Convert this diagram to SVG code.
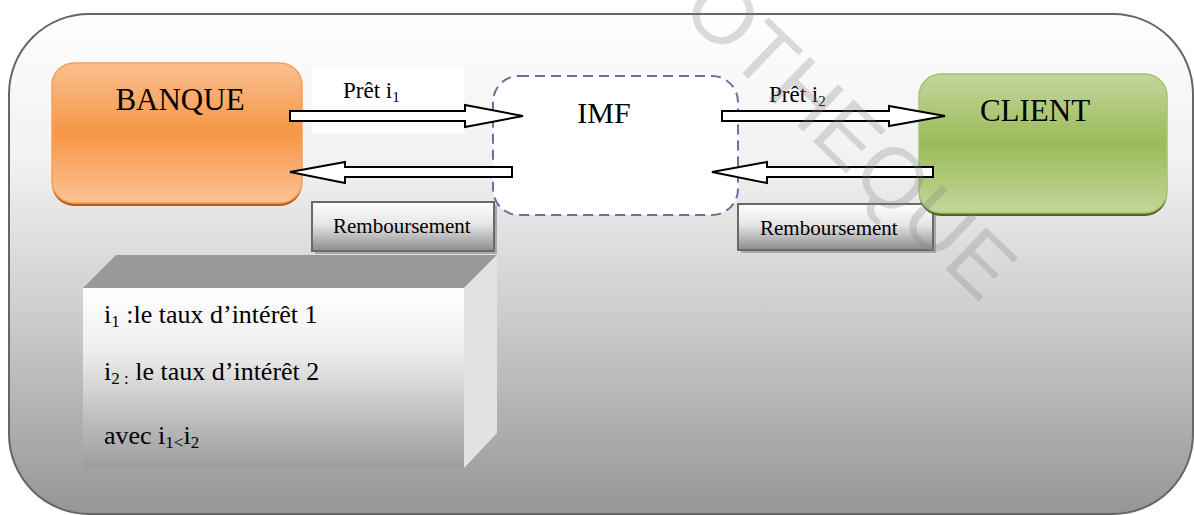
<svg xmlns="http://www.w3.org/2000/svg" width="1194" height="515" viewBox="0 0 1194 515">
  <defs>
    <linearGradient id="bgGrad" x1="0" y1="0" x2="0" y2="1">
      <stop offset="0" stop-color="#fefefe"/>
      <stop offset="0.3" stop-color="#f1f1f1"/>
      <stop offset="0.6" stop-color="#cdcdcd"/>
      <stop offset="1" stop-color="#969696"/>
    </linearGradient>
    <linearGradient id="orangeGrad" x1="0" y1="0" x2="0" y2="1">
      <stop offset="0" stop-color="#fac08f"/>
      <stop offset="0.5" stop-color="#f79646"/>
      <stop offset="1" stop-color="#fbc394"/>
    </linearGradient>
    <linearGradient id="greenGrad" x1="0" y1="0" x2="0" y2="1">
      <stop offset="0" stop-color="#c3d69b"/>
      <stop offset="0.5" stop-color="#9bbb59"/>
      <stop offset="1" stop-color="#c3d69b"/>
    </linearGradient>
    <linearGradient id="btnGrad" x1="0" y1="0" x2="0" y2="1">
      <stop offset="0" stop-color="#ffffff"/>
      <stop offset="0.45" stop-color="#e6e6e6"/>
      <stop offset="1" stop-color="#8c8c8c"/>
    </linearGradient>
    <linearGradient id="frontGrad" x1="0" y1="0" x2="0" y2="1">
      <stop offset="0" stop-color="#ffffff"/>
      <stop offset="0.35" stop-color="#eeeeee"/>
      <stop offset="1" stop-color="#9c9c9c"/>
    </linearGradient>
    <style>
      .title { font-size: 31px; }
      .small { font-size: 21px; }
      .note { font-size: 26px; }
      .arrow { fill: #fff; stroke: #000; stroke-width: 2; stroke-linejoin: miter; }
      .btn { fill: url(#btnGrad); stroke: #6a6a6a; stroke-width: 2; }
      .btnShadow { fill: #a8a8a8; }
    </style>
  </defs>

  <!-- outer rounded panel -->
  <rect id="panel" x="9" y="14" width="1184" height="500" rx="80" ry="80" fill="url(#bgGrad)" stroke="#666" stroke-width="2"/>

  <g font-family="'Liberation Serif', 'Times New Roman', serif" fill="#000">
    <!-- repayment labels -->
    <g id="remb1">
      <rect class="btnShadow" x="315" y="205" width="182" height="49"/>
      <rect class="btn" x="312" y="202" width="182" height="49"/>
      <text class="small" x="333" y="233">Remboursement</text>
    </g>
    <g id="remb2">
      <rect class="btnShadow" x="741" y="207" width="195" height="46"/>
      <rect class="btn" x="738" y="204" width="195" height="46"/>
      <text class="small" x="760" y="235">Remboursement</text>
    </g>

    <!-- BANQUE -->
    <g id="banque">
      <rect x="52" y="66" width="250" height="140" rx="22" fill="#b35e1c"/>
      <rect x="52" y="63" width="250" height="140" rx="22" fill="url(#orangeGrad)" stroke="#f6a059" stroke-width="1.5"/>
      <text class="title" x="180" y="110" text-anchor="middle">BANQUE</text>
    </g>

    <!-- IMF -->
    <g id="imf">
      <rect x="493" y="76" width="245" height="139" rx="26" fill="#fff" stroke="#8064a2" stroke-width="2" stroke-dasharray="10 6"/>
      <text x="604" y="123" text-anchor="middle" font-size="30">IMF</text>
    </g>

    <!-- CLIENT -->
    <g id="client">
      <rect x="919" y="77" width="248" height="139" rx="22" fill="#4f6228"/>
      <rect x="919" y="74" width="248" height="139" rx="22" fill="url(#greenGrad)" stroke="#a6c26a" stroke-width="1.5"/>
      <text class="title" x="1035" y="121" text-anchor="middle">CLIENT</text>
    </g>

    <!-- loan label (i1) -->
    <g id="pret1">
      <rect x="312" y="66" width="152" height="67" fill="#fff"/>
      <text x="343" y="98" font-size="23">Prêt i<tspan font-size="15" dy="4">1</tspan></text>
    </g>
    <!-- loan label (i2) -->
    <g id="pret2">
      <text x="769" y="102" font-size="23">Prêt i<tspan font-size="15" dy="4">2</tspan></text>
    </g>

    <!-- legend block -->
    <g id="legend">
      <polygon points="83,288 116,255 497,255 464,288" fill="#999999"/>
      <polygon points="464,288 497,255 497,433 464,468" fill="#e2e2e2"/>
      <rect x="83" y="288" width="381" height="180" fill="url(#frontGrad)"/>
      <text class="note" x="104" y="323">i<tspan font-size="17" dy="4">1</tspan><tspan dy="-4"> :le taux d’intérêt 1</tspan></text>
      <text class="note" x="104" y="380">i<tspan font-size="17" dy="4">2 :</tspan><tspan dy="-4"> le taux d’intérêt 2</tspan></text>
      <text class="note" x="104" y="444">avec i<tspan font-size="17" dy="4">1&lt;</tspan><tspan dy="-4">i</tspan><tspan font-size="17" dy="4">2</tspan></text>
    </g>
  </g>

  <!-- flows -->
  <g id="connectors">
    <polygon class="arrow" points="290,111 465,111 465,105 523,116 465,127 465,121 290,121"/>
    <polygon class="arrow" points="512,167 345,167 345,162 290,172 345,183 345,177 512,177"/>
    <polygon class="arrow" points="722,111 889,111 889,106 945,116 889,126 889,121 722,121"/>
    <polygon class="arrow" points="933,167 767,167 767,162 712,172 767,183 767,177 933,177"/>
  </g>

  <!-- watermark -->
  <text x="679" y="12" transform="rotate(44 679 12)" font-family="'Liberation Sans', Arial, sans-serif" font-size="85" fill="#808080" fill-opacity="0.28">OTHEQUE</text>
</svg>
